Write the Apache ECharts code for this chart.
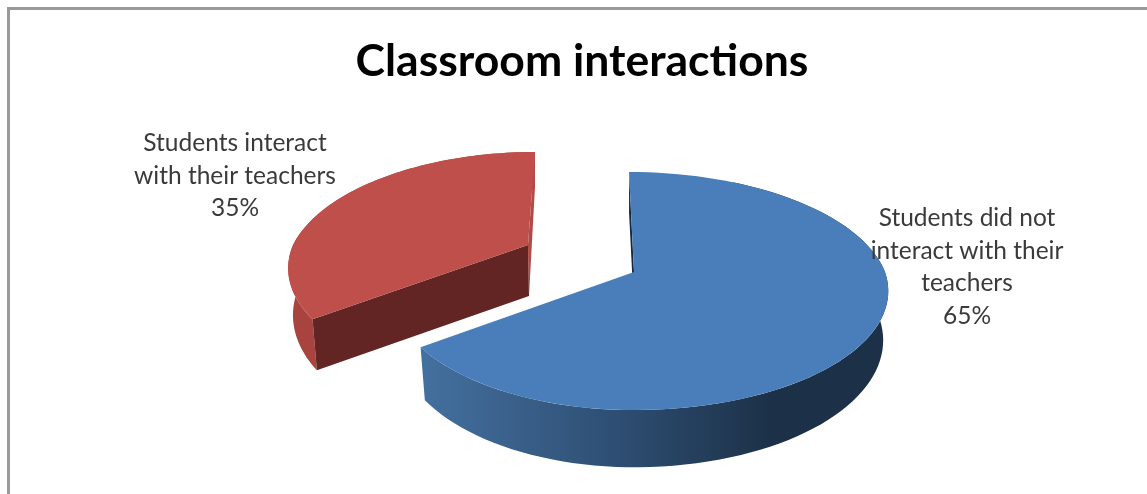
<!DOCTYPE html>
<html>
<head>
<meta charset="utf-8">
<style>html,body{margin:0;padding:0;background:#fff}#c{width:1147px;height:494px}</style>
<script src="https://cdn.jsdelivr.net/npm/echarts@6/dist/echarts.min.js"></script>
</head>
<body>
<div id="c"></div>
<script>
var chartTitle = 'Classroom interactions';
var categories = ['Students did not\ninteract with their\nteachers', 'Students interact\nwith their teachers'];
var values = [65, 35];

// Appearance of each slice (projection of the tilted disc), separate from the data.
var looks = [
  {ax:634, ay:272, b:251, bl:239, a:116, k:0.16, s:-0.05, d:48, ad:57, top:'#4A7EBB', face:'#17293f',
   wall:[[0,'#1c3148'],[0.25,'#1c3148'],[0.6,'#2f5075'],[1,'#44709f']],
   lx:967, ly:267},
  {ax:528, ay:245, b:235, bl:235, a:111.6, k:0.2, s:0.075, d:45, ad:51, top:'#BE4F4B', face:'#B14A47',
   wall:[[0,'#A8433F'],[1,'#B04A46']], cut:'#632523',
   lx:235, ly:176}
];

function project(L, t, drop) {
  var X = Math.sin(t), Y = Math.cos(t), w = 1 + L.k * Y;
  var y = L.ay - L.a * Y / w;
  var x = L.ax + (X < 0 ? L.bl : L.b) * X / w + L.s * Math.max(0, L.ay - y);
  if (drop) { x += (L.ax - x) * 0.02; y += L.d / w; }
  return [x, y];
}
function rim(L, t0, t1, drop) {
  var pts = [], n = 90;
  for (var i = 0; i <= n; i++) pts.push(project(L, t0 + (t1 - t0) * i / n, drop));
  return pts;
}
function gradient(stops, x0, x1) {
  return {type:'linear', x:x0, y:0, x2:x1, y2:0, colorStops:stops.map(function (c) { return {offset:c[0], color:c[1]}; })};
}
function renderSlice(params, api) {
  var i = params.dataIndex, L = looks[i], total = values.reduce(function (p, c) { return p + c; }, 0);
  var before = values.slice(0, i).reduce(function (p, c) { return p + c; }, 0);
  var t0 = before / total * 2 * Math.PI, t1 = (before + api.value(0)) / total * 2 * Math.PI;
  var apex = [L.ax, L.ay], apexLow = [L.ax + 1, L.ay + L.ad];
  var kids = [];
  function poly(pts, fill) {
    kids.push({type:'polygon', shape:{points:pts}, style:{fill:fill, stroke:null}});
  }
  var upper = rim(L, t0, t1, false);
  if (i === 0) {
    poly([apex, project(L, t0, false), project(L, t0, true), apexLow], L.face);
    var a0 = t0 + (t1 - t0) * 0.12;
    poly(rim(L, a0, t1, false).concat(rim(L, a0, t1, true).reverse()), gradient(L.wall, 1, 0));
  } else {
    poly([apex, project(L, t1, false), project(L, t1, true), apexLow], L.face);
    poly(upper.concat(rim(L, t0, t1, true).reverse()), gradient(L.wall, 0, 1));
    poly([apex, project(L, t0, false), project(L, t0, true), apexLow], L.cut);
  }
  poly([apex].concat(upper), L.top);
  kids.push({type:'text', style:{
    x:L.lx, y:L.ly, text:categories[i] + '\n' + api.value(0) + '%', align:'center', verticalAlign:'middle',
    font:'400 24.5px Lato', lineHeight:32.5, fill:'#3a3a3a'
  }});
  return {type:'group', children:kids};
}

var chart = echarts.init(document.getElementById('c'));
chart.setOption({
  animation:false,
  backgroundColor:'#ffffff',
  title:{text:chartTitle, left:577, top:57, textAlign:'center', textVerticalAlign:'middle',
         textStyle:{color:'#000', fontFamily:'Lato', fontWeight:'bold', fontSize:44.5}},
  graphic:[
    {type:'rect', shape:{x:7, y:7, width:1140, height:3}, style:{fill:'#9a9a9a'}},
    {type:'rect', shape:{x:7, y:7, width:3, height:487}, style:{fill:'#9a9a9a'}}
  ],
  series:[{type:'custom', coordinateSystem:'none', data:values.map(function (v) { return [v]; }), renderItem:renderSlice}]
});
</script>
</body>
</html>
